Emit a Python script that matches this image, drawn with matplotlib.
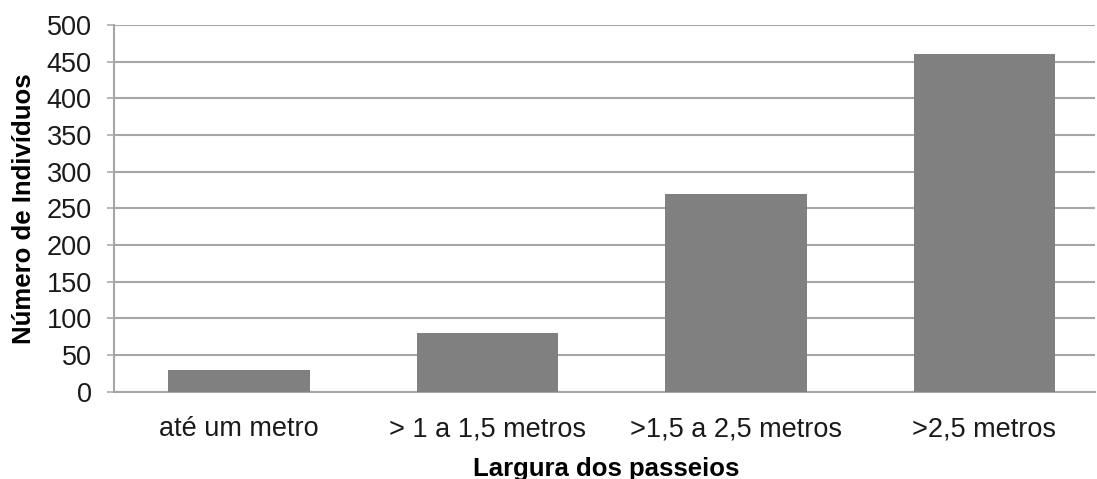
import matplotlib.pyplot as plt
import matplotlib.patheffects as pe

categories = ["até um metro", "> 1 a 1,5 metros", ">1,5 a 2,5 metros", ">2,5 metros"]
individuos = [30, 80, 270, 460]
y_ticks = [0, 50, 100, 150, 200, 250, 300, 350, 400, 450, 500]

plt.rcParams["font.family"] = ["Liberation Sans", "DejaVu Sans"]

fig = plt.figure(figsize=(10.97, 4.79), dpi=100)
ax = fig.add_axes([114 / 1097, 1 - 391.5 / 479, (1095 - 114) / 1097, (391.5 - 25) / 479])

grid_color = "#a6a6a6"
pos = list(range(len(categories)))
ax.bar(pos, individuos, width=0.57, color="#808080", zorder=3,
       path_effects=[pe.SimpleLineShadow(offset=(1, -1), shadow_color="#bbbbbb", alpha=0.6), pe.Normal()])

ax.set_ylim(0, 500)
ax.set_xlim(-0.503, 3.445)
ax.set_yticks(y_ticks)
ax.set_xticks(pos)
ax.set_xticklabels(categories)
ax.yaxis.grid(True, color=grid_color, linewidth=1.5, zorder=0)
ax.set_axisbelow(True)

for side in ["top", "right"]:
    ax.spines[side].set_visible(False)
for side in ["left", "bottom"]:
    ax.spines[side].set_color(grid_color)
    ax.spines[side].set_linewidth(1.5)

ax.tick_params(axis="y", direction="out", length=5, width=1.1, color=grid_color,
               labelsize=19.5, pad=11, labelcolor="#1a1a1a")
ax.tick_params(axis="x", length=0, labelsize=19.5, pad=18, labelcolor="#1a1a1a")

ax.set_ylabel("Número de Indivíduos", fontsize=18.5, fontweight="bold")
ax.set_xlabel("Largura dos passeios", fontsize=18.5, fontweight="bold", va="bottom")
ax.yaxis.set_label_coords(-0.08, 0.5)
ax.xaxis.set_label_coords(0.502, -0.2445)

fig.savefig("out.png", dpi=100)
